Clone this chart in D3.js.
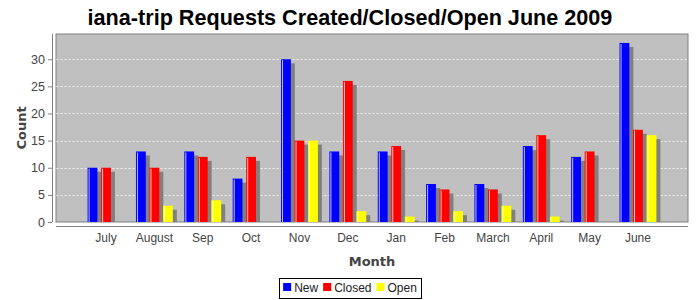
<!DOCTYPE html>
<html><head><meta charset="utf-8">
<script src="https://cdn.jsdelivr.net/npm/d3@7"></script>
<style>body{margin:0;background:#fff}svg{display:block}</style>
</head><body>
<svg id="c" width="700" height="300"></svg>
<script>
const categories = ["July","August","Sep","Oct","Nov","Dec","Jan","Feb","March","April","May","June"];
const seriesNames = ["New","Closed","Open"];
const newVals    = [10,13,13, 8,30,13,13,7,7,14,12,33];
const closedVals = [10,10,12,12,15,26,14,6,6,16,13,17];
const openVals   = [ 0, 3, 4, 0,15, 2, 1,2,3, 1, 0,16];
const yTicks = [0,5,10,15,20,25,30];
const colors = ["#0000ff","#ff0000","#ffff00"];
const title = "iana-trip Requests Created/Closed/Open June 2009";

const svg = d3.select("#c");
const font = "'Liberation Sans', Arial, sans-serif";
const L = 56, R = 688, T = 34, B = 222;
const W = R - L;
const values = [newVals, closedVals, openVals];

// title
const t = svg.append("text").attr("x",350).attr("y",25).attr("text-anchor","middle")
  .attr("font-family","'Liberation Sans', Arial, sans-serif").attr("font-weight","bold").attr("font-size",20)
  .attr("fill","#000").text(title);
const tw = t.node().getComputedTextLength();
t.attr("font-size", 20*525/tw);

// plot background
svg.append("rect").attr("x",L).attr("y",T).attr("width",W).attr("height",B-T)
  .attr("fill","#c0c0c0").attr("stroke","#808080").attr("stroke-width",1);

const y = d3.scaleLinear().domain([0, 33*1.05]).range([B, T]);
const x = d3.scaleBand().domain(categories).range([L+0.05*W, R-0.05*W])
  .paddingInner(0.2376).paddingOuter(0);
const xs = d3.scaleBand().domain(seriesNames).range([0, x.bandwidth()]).paddingInner(0.273).paddingOuter(0);

// grid
svg.append("g").selectAll("line").data(yTicks.filter(d=>d>0)).join("line")
  .attr("x1",L+0.5).attr("x2",R-0.5).attr("y1",d=>Math.round(y(d))+0.5).attr("y2",d=>Math.round(y(d))+0.5)
  .attr("stroke","#f0f0f0").attr("stroke-width",1).attr("stroke-dasharray","2,2");

// clip
svg.append("clipPath").attr("id","pc").append("rect").attr("x",L).attr("y",T).attr("width",W).attr("height",B-T);

const items = [];
categories.forEach((c,i)=>{
  seriesNames.forEach((s,j)=>{
    const v = values[j][i];
    if (v>0) items.push({c,s,j,v});
  });
});
const g = svg.append("g").attr("clip-path","url(#pc)");
g.selectAll("rect.sh").data(items).join("rect").attr("class","sh")
  .attr("x",d=>x(d.c)+xs(d.s)+4).attr("y",d=>y(d.v)+4)
  .attr("width",xs.bandwidth()).attr("height",d=>B-y(d.v))
  .attr("fill","#808080");
g.selectAll("rect.bar").data(items).join("rect").attr("class","bar")
  .attr("x",d=>x(d.c)+xs(d.s)).attr("y",d=>y(d.v))
  .attr("width",xs.bandwidth()).attr("height",d=>B-y(d.v))
  .attr("fill",d=>colors[d.j]);
g.selectAll("rect.hl").data(items).join("rect").attr("class","hl")
  .attr("x",d=>x(d.c)+xs(d.s)+1).attr("y",d=>y(d.v)+1)
  .attr("width",1).attr("height",d=>Math.max(0,B-y(d.v)-1))
  .attr("fill","#ffffff").attr("opacity",0.75);

// y axis
const ya = svg.append("g").attr("transform","translate(52,0)")
  .call(d3.axisLeft(y).tickValues(yTicks).tickSize(4).tickPadding(3).tickSizeOuter(0));
ya.select(".domain").attr("stroke","#808080").attr("d",`M0.5,${T}V${B}`);
ya.selectAll(".tick line").attr("stroke","#808080");
ya.selectAll(".tick text").attr("font-family",font).attr("font-size",12.5).attr("fill","#444");

// x axis
const xa = svg.append("g").attr("transform","translate(0,226)")
  .call(d3.axisBottom(x).tickSize(0).tickPadding(7).tickSizeOuter(0));
xa.select(".domain").attr("stroke","#808080").attr("d",`M${L},0.5H${R}`);
xa.selectAll(".tick text").attr("font-family",font).attr("font-size",12).attr("fill","#444");

// axis labels
svg.append("text").attr("transform",`translate(26,${(T+B)/2}) rotate(-90)`).attr("text-anchor","middle")
  .attr("font-family","'DejaVu Sans', sans-serif").attr("font-weight","bold").attr("font-size",13).attr("fill","#444").text("Count");
svg.append("text").attr("x",(L+R)/2).attr("y",266).attr("text-anchor","middle")
  .attr("font-family","'DejaVu Sans', sans-serif").attr("font-weight","bold").attr("font-size",13).attr("fill","#444").text("Month");

// legend
const lg = svg.append("g");
const box = lg.append("rect").attr("y",278.5).attr("height",20).attr("fill","#fff").attr("stroke","#000");
const parts = [];
seriesNames.forEach((s,j)=>{
  const sq = lg.append("rect").attr("y",283).attr("width",8).attr("height",8).attr("fill",colors[j]);
  const tx = lg.append("text").attr("y",292).attr("font-family",font).attr("font-size",12).attr("fill","#222").text(s);
  parts.push({sq,tx});
});
let total = 0;
parts.forEach((p,i)=>{ p.w = p.tx.node().getComputedTextLength(); total += 8+3+p.w + (i<parts.length-1?5:0); });
let px = 350 - total/2;
parts.forEach((p,i)=>{ p.sq.attr("x",px); p.tx.attr("x",px+11); px += 11+p.w+5; });
box.attr("x",Math.round(350-total/2-4)+0.5).attr("width",Math.round(total+8));
</script>
</body></html>
